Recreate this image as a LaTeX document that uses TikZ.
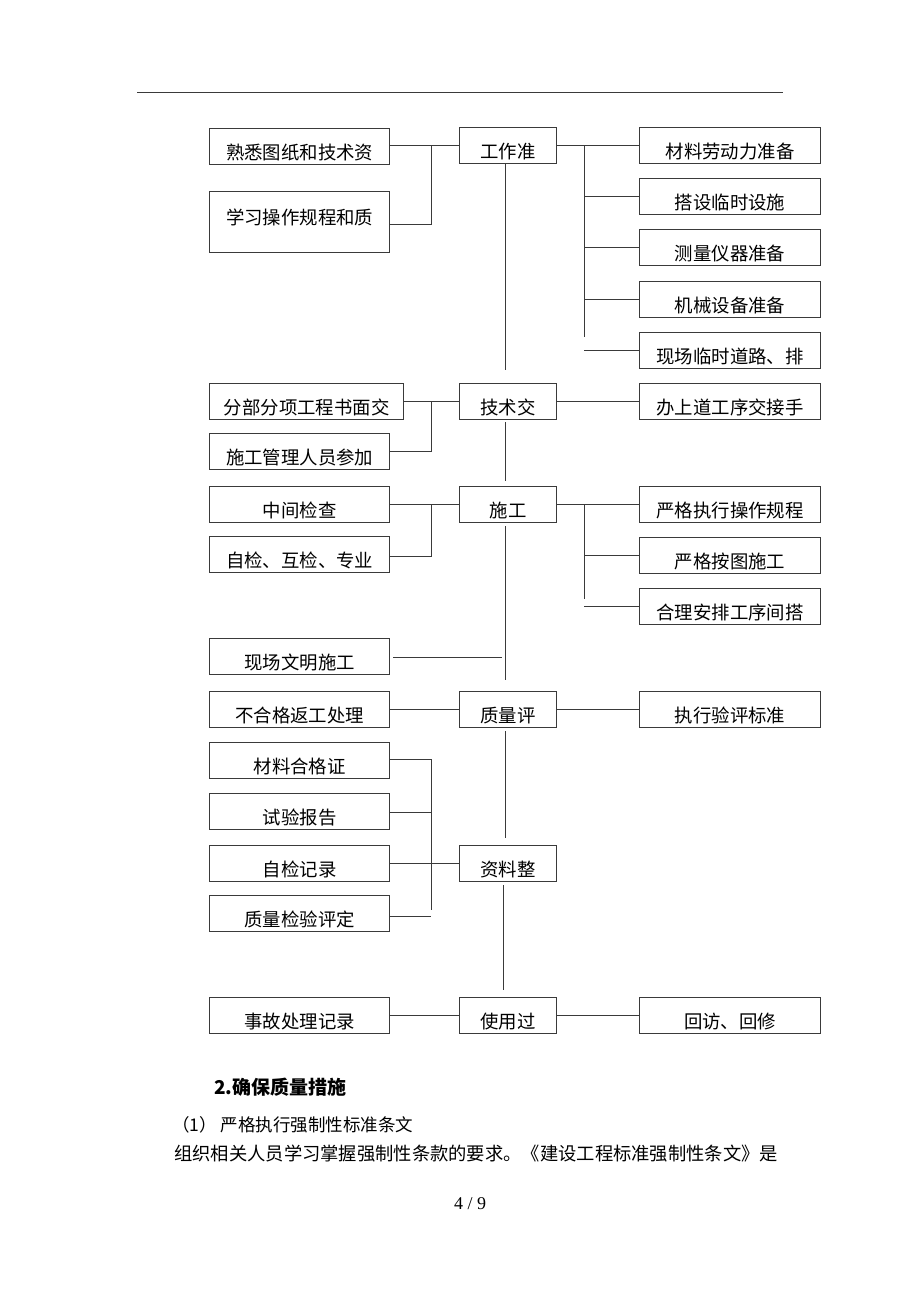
\documentclass[tikz,border=0pt]{standalone}
\usepackage{fontspec}
\setmainfont{Liberation Serif}
\newfontfamily\cjk{Noto Sans CJK SC}
\definecolor{lc}{HTML}{3A3A3A}
\newcommand\bt[1]{\raisebox{-12.5pt}[0pt][0pt]{#1}}
\begin{document}
\begin{tikzpicture}[x=1pt,y=-1pt,
  bx/.style={draw=lc, line width=1.3pt, anchor=north west, inner sep=0pt,
    minimum height=36pt, font=\cjk\fontsize{18.4}{20}\selectfont},
  lw/.style={bx, minimum width=180pt},
  lww/.style={bx, minimum width=194pt},
  cw/.style={bx, minimum width=97pt},
  rw/.style={bx, minimum width=181pt},
  ln/.style={draw=lc, line width=1pt}]
\fill[white] (0,0) rectangle (920,1302);
\useasboundingbox (0,0) rectangle (920,1302);
\coordinate (tl) at (137,92);
\coordinate (tr) at (783,92);
\draw[lc, line width=0.8pt] (tl) -- (tr);

% row 1
\node[lw] (a1) at (209,128) {\bt{熟悉图纸和技术资}};
\node[lw, minimum height=61pt] (a2) at (209,191) {\raisebox{-2pt}[0pt][0pt]{学习操作规程和质}};
\node[cw] (gz) at (459,127) {\bt{工作准}};
\node[rw] (r1) at (639,127) {\bt{材料劳动力准备}};
\node[rw] (r2) at (639,178) {\bt{搭设临时设施}};
\node[rw] (r3) at (639,229) {\bt{测量仪器准备}};
\node[rw] (r4) at (639,281) {\bt{机械设备准备}};
\node[rw] (r5) at (639,332) {\bt{现场临时道路、排}};

% row 2
\node[lww] (b1) at (209,383) {\bt{分部分项工程书面交}};
\node[lw] (b2) at (209,433) {\bt{施工管理人员参加}};
\node[cw] (js) at (459,383) {\bt{技术交}};
\node[rw] (s1) at (639,383) {\bt{办上道工序交接手}};

% row 3
\node[lw] (c1) at (209,486) {\bt{中间检查}};
\node[lw] (c2) at (209,536) {\bt{自检、互检、专业}};
\node[cw] (sg) at (459,486) {\bt{施工}};
\node[rw] (t1) at (639,486) {\bt{严格执行操作规程}};
\node[rw] (t2) at (639,537) {\bt{严格按图施工}};
\node[rw] (t3) at (639,588) {\bt{合理安排工序间搭}};

% row 4
\node[lw] (d0) at (209,638) {\bt{现场文明施工}};
\node[lw] (d1) at (209,691) {\bt{不合格返工处理}};
\node[cw] (zl) at (459,691) {\bt{质量评}};
\node[rw] (u1) at (639,691) {\bt{执行验评标准}};

% row 5
\node[lw] (e1) at (209,742) {\bt{材料合格证}};
\node[lw] (e2) at (209,793) {\bt{试验报告}};
\node[lw] (e3) at (209,845) {\bt{自检记录}};
\node[lw] (e4) at (209,895) {\bt{质量检验评定}};
\node[cw] (zz) at (459,845) {\bt{资料整}};

% row 6
\node[lw] (f1) at (209,997) {\bt{事故处理记录}};
\node[cw] (sy) at (459,997) {\bt{使用过}};
\node[rw] (v1) at (639,997) {\bt{回访、回修}};

% connectors row 1
\draw[ln] (a1.east |- gz.west) -- (gz.west);
\coordinate (lb1) at (431,224);
\draw[ln] (lb1 |- gz.west) -- (lb1) -- (a2.east |- lb1);
\draw[ln] (gz.east) -- (r1.west |- gz.east);
\coordinate (rb1) at (584,337);
\draw[ln] (rb1 |- gz.east) -- (rb1);
\draw[ln] (rb1 |- r2.west) -- (r2.west);
\draw[ln] (rb1 |- r3.west) -- (r3.west);
\draw[ln] (rb1 |- r4.west) -- (r4.west);
\draw[ln] (rb1 |- r5.west) -- (r5.west);
\coordinate (m1) at (505,370);
\draw[ln] (m1 |- gz.south) -- (m1);

% connectors row 2
\draw[ln] (b1.east) -- (js.west);
\coordinate (lb2) at (431,451);
\draw[ln] (lb2 |- b1.east) -- (lb2) -- (b2.east |- lb2);
\draw[ln] (js.east) -- (s1.west);
\coordinate (m2) at (505,481);
\draw[ln] ([yshift=-2pt]m2 |- js.south) -- (m2);

% connectors row 3
\draw[ln] (c1.east) -- (sg.west);
\coordinate (lb3) at (431,556);
\draw[ln] (lb3 |- c1.east) -- (lb3) -- (c2.east |- lb3);
\draw[ln] (sg.east) -- (t1.west);
\coordinate (rb3) at (584,599);
\draw[ln] (rb3 |- sg.east) -- (rb3);
\draw[ln] (rb3 |- t2.west) -- (t2.west);
\draw[ln] (rb3 |- t3.west) -- (t3.west);
\coordinate (m3) at (505,680);
\draw[ln] ([yshift=-3pt]m3 |- sg.south) -- (m3);
\coordinate (m3b) at (502,657);
\draw[ln] ([xshift=3pt]m3b -| d0.east) -- (m3b);

% connectors row 4
\draw[ln] (d1.east) -- (zl.west);
\draw[ln] (zl.east) -- (u1.west);
\coordinate (m4) at (505,838);
\draw[ln] ([yshift=-3pt]m4 |- zl.south) -- (m4);

% connectors row 5
\coordinate (lb5) at (431,910);
\draw[ln] (e1.east |- 0,759) -- (lb5 |- 0,759) -- (lb5);
\draw[ln] (e2.east |- 0,812) -- (lb5 |- 0,812);
\draw[ln] (e3.east) -- (zz.west);
\draw[ln] (e4.east |- 0,916) -- (lb5 |- 0,916);
\coordinate (m5) at (503,990);
\draw[ln] ([yshift=-3pt]m5 |- zz.south) -- (m5);

% connectors row 6
\draw[ln] (f1.east) -- (sy.west);
\draw[ln] (sy.east) -- (v1.west);

% text below
\node[anchor=base west, inner sep=0pt, font=\cjk\bfseries\fontsize{19}{21}\selectfont] (h2) at (214,1094) {2.确保质量措施};
\node[anchor=base west, inner sep=0pt, font=\cjk\fontsize{17.5}{19}\selectfont] (p1) at (172,1131) {（1） 严格执行强制性标准条文};
\node[anchor=base west, inner sep=0pt, font=\cjk\fontsize{18.3}{20}\selectfont] (p2) at (174,1160) {组织相关人员学习掌握强制性条款的要求。《建设工程标准强制性条文》是};
\node[anchor=base, inner sep=0pt, font=\fontsize{18}{20}\selectfont] (pg) at (470,1209) {4 / 9};
\end{tikzpicture}
\end{document}
